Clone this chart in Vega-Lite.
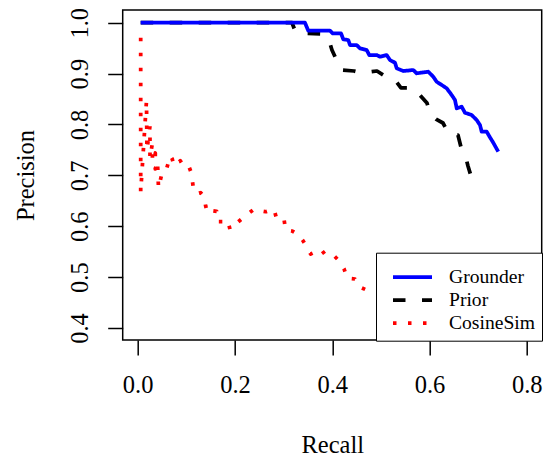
{
  "$schema": "https://vega.github.io/schema/vega-lite/v6.json",
  "width": 419,
  "height": 330,
  "autosize": {"type": "none"},
  "padding": {"left": 122.7, "top": 10, "right": 3.3, "bottom": 114},
  "background": "white",
  "config": {
    "view": {"stroke": "black", "strokeWidth": 1.5},
    "font": "Liberation Serif",
    "axis": {"labelFont": "Liberation Serif", "titleFont": "Liberation Serif"},
    "legend": {"labelFont": "Liberation Serif", "titleFont": "Liberation Serif"}
  },
  "data": {"values": [
    {"m":"Grounder","i":0,"r":0.0062,"p":1.0},
    {"m":"Grounder","i":1,"r":0.3440,"p":1.0},
    {"m":"Grounder","i":2,"r":0.3508,"p":0.9843},
    {"m":"Grounder","i":3,"r":0.3954,"p":0.9843},
    {"m":"Grounder","i":4,"r":0.4010,"p":0.9792},
    {"m":"Grounder","i":5,"r":0.4181,"p":0.9792},
    {"m":"Grounder","i":6,"r":0.4228,"p":0.9674},
    {"m":"Grounder","i":7,"r":0.4331,"p":0.9660},
    {"m":"Grounder","i":8,"r":0.4366,"p":0.9562},
    {"m":"Grounder","i":9,"r":0.4503,"p":0.9562},
    {"m":"Grounder","i":10,"r":0.4571,"p":0.9497},
    {"m":"Grounder","i":11,"r":0.4709,"p":0.9463},
    {"m":"Grounder","i":12,"r":0.4762,"p":0.9365},
    {"m":"Grounder","i":13,"r":0.4915,"p":0.9365},
    {"m":"Grounder","i":14,"r":0.4983,"p":0.9332},
    {"m":"Grounder","i":15,"r":0.5120,"p":0.9365},
    {"m":"Grounder","i":16,"r":0.5188,"p":0.9267},
    {"m":"Grounder","i":17,"r":0.5291,"p":0.9214},
    {"m":"Grounder","i":18,"r":0.5326,"p":0.9104},
    {"m":"Grounder","i":19,"r":0.5462,"p":0.9051},
    {"m":"Grounder","i":20,"r":0.5667,"p":0.9070},
    {"m":"Grounder","i":21,"r":0.5737,"p":0.9006},
    {"m":"Grounder","i":22,"r":0.5976,"p":0.9037},
    {"m":"Grounder","i":23,"r":0.6078,"p":0.8939},
    {"m":"Grounder","i":24,"r":0.6148,"p":0.8840},
    {"m":"Grounder","i":25,"r":0.6284,"p":0.8756},
    {"m":"Grounder","i":26,"r":0.6354,"p":0.8711},
    {"m":"Grounder","i":27,"r":0.6457,"p":0.8579},
    {"m":"Grounder","i":28,"r":0.6525,"p":0.8481},
    {"m":"Grounder","i":29,"r":0.6560,"p":0.8318},
    {"m":"Grounder","i":30,"r":0.6662,"p":0.8349},
    {"m":"Grounder","i":31,"r":0.6730,"p":0.8231},
    {"m":"Grounder","i":32,"r":0.6868,"p":0.8186},
    {"m":"Grounder","i":33,"r":0.6971,"p":0.8088},
    {"m":"Grounder","i":34,"r":0.7039,"p":0.7989},
    {"m":"Grounder","i":35,"r":0.7074,"p":0.7858},
    {"m":"Grounder","i":36,"r":0.7177,"p":0.7858},
    {"m":"Grounder","i":37,"r":0.7244,"p":0.7748},
    {"m":"Grounder","i":38,"r":0.7312,"p":0.7642},
    {"m":"Grounder","i":39,"r":0.7415,"p":0.7465},
    {"m":"Prior","i":0,"r":0.0062,"p":1.0},
    {"m":"Prior","i":1,"r":0.3173,"p":1.0},
    {"m":"Prior","i":2,"r":0.3255,"p":0.9798},
    {"m":"Prior","i":3,"r":0.3790,"p":0.9778},
    {"m":"Prior","i":4,"r":0.3934,"p":0.9660},
    {"m":"Prior","i":5,"r":0.3995,"p":0.9463},
    {"m":"Prior","i":6,"r":0.4098,"p":0.9247},
    {"m":"Prior","i":7,"r":0.4181,"p":0.9070},
    {"m":"Prior","i":8,"r":0.4448,"p":0.9051},
    {"m":"Prior","i":9,"r":0.4612,"p":0.9011},
    {"m":"Prior","i":10,"r":0.4921,"p":0.9051},
    {"m":"Prior","i":11,"r":0.5085,"p":0.8952},
    {"m":"Prior","i":12,"r":0.5291,"p":0.8874},
    {"m":"Prior","i":13,"r":0.5414,"p":0.8717},
    {"m":"Prior","i":14,"r":0.5661,"p":0.8717},
    {"m":"Prior","i":15,"r":0.5784,"p":0.8599},
    {"m":"Prior","i":16,"r":0.5949,"p":0.8422},
    {"m":"Prior","i":17,"r":0.6011,"p":0.8225},
    {"m":"Prior","i":18,"r":0.6134,"p":0.8107},
    {"m":"Prior","i":19,"r":0.6278,"p":0.8029},
    {"m":"Prior","i":20,"r":0.6401,"p":0.7812},
    {"m":"Prior","i":21,"r":0.6586,"p":0.7793},
    {"m":"Prior","i":22,"r":0.6648,"p":0.7557},
    {"m":"Prior","i":23,"r":0.6730,"p":0.7419},
    {"m":"Prior","i":24,"r":0.6792,"p":0.7184},
    {"m":"Prior","i":25,"r":0.6854,"p":0.6987},
    {"m":"CosineSim","i":0,"r":0.0062,"p":0.9705},
    {"m":"CosineSim","i":1,"r":0.0062,"p":0.6673},
    {"m":"CosineSim","i":2,"r":0.0181,"p":0.8461},
    {"m":"CosineSim","i":3,"r":0.0191,"p":0.7498},
    {"m":"CosineSim","i":4,"r":0.0253,"p":0.7970},
    {"m":"CosineSim","i":5,"r":0.0253,"p":0.7341},
    {"m":"CosineSim","i":6,"r":0.0300,"p":0.7616},
    {"m":"CosineSim","i":7,"r":0.0304,"p":0.7282},
    {"m":"CosineSim","i":8,"r":0.0362,"p":0.7439},
    {"m":"CosineSim","i":9,"r":0.0362,"p":0.7125},
    {"m":"CosineSim","i":10,"r":0.0407,"p":0.7282},
    {"m":"CosineSim","i":11,"r":0.0428,"p":0.6751},
    {"m":"CosineSim","i":12,"r":0.0506,"p":0.7066},
    {"m":"CosineSim","i":13,"r":0.0588,"p":0.7105},
    {"m":"CosineSim","i":14,"r":0.0670,"p":0.7386},
    {"m":"CosineSim","i":15,"r":0.0711,"p":0.7321},
    {"m":"CosineSim","i":16,"r":0.0746,"p":0.7189},
    {"m":"CosineSim","i":17,"r":0.0814,"p":0.7217},
    {"m":"CosineSim","i":18,"r":0.0876,"p":0.7288},
    {"m":"CosineSim","i":19,"r":0.0917,"p":0.7223},
    {"m":"CosineSim","i":20,"r":0.0979,"p":0.7150},
    {"m":"CosineSim","i":21,"r":0.1055,"p":0.7170},
    {"m":"CosineSim","i":22,"r":0.1102,"p":0.7052},
    {"m":"CosineSim","i":23,"r":0.1152,"p":0.6698},
    {"m":"CosineSim","i":24,"r":0.1219,"p":0.6639},
    {"m":"CosineSim","i":25,"r":0.1296,"p":0.6659},
    {"m":"CosineSim","i":26,"r":0.1363,"p":0.6588},
    {"m":"CosineSim","i":27,"r":0.1398,"p":0.6397},
    {"m":"CosineSim","i":28,"r":0.1439,"p":0.6260},
    {"m":"CosineSim","i":29,"r":0.1534,"p":0.6305},
    {"m":"CosineSim","i":30,"r":0.1625,"p":0.6293},
    {"m":"CosineSim","i":31,"r":0.1645,"p":0.6089},
    {"m":"CosineSim","i":32,"r":0.1744,"p":0.6089},
    {"m":"CosineSim","i":33,"r":0.1851,"p":0.6122},
    {"m":"CosineSim","i":34,"r":0.1898,"p":0.5939},
    {"m":"CosineSim","i":35,"r":0.2056,"p":0.6077},
    {"m":"CosineSim","i":36,"r":0.2227,"p":0.6215},
    {"m":"CosineSim","i":37,"r":0.2398,"p":0.6338},
    {"m":"CosineSim","i":38,"r":0.2515,"p":0.6305},
    {"m":"CosineSim","i":39,"r":0.2638,"p":0.6285},
    {"m":"CosineSim","i":40,"r":0.2803,"p":0.6338},
    {"m":"CosineSim","i":41,"r":0.2858,"p":0.6142},
    {"m":"CosineSim","i":42,"r":0.3008,"p":0.6142},
    {"m":"CosineSim","i":43,"r":0.3043,"p":0.5926},
    {"m":"CosineSim","i":44,"r":0.3179,"p":0.5906},
    {"m":"CosineSim","i":45,"r":0.3302,"p":0.5837},
    {"m":"CosineSim","i":46,"r":0.3393,"p":0.5725},
    {"m":"CosineSim","i":47,"r":0.3475,"p":0.5597},
    {"m":"CosineSim","i":48,"r":0.3557,"p":0.5454},
    {"m":"CosineSim","i":49,"r":0.3769,"p":0.5546},
    {"m":"CosineSim","i":50,"r":0.3872,"p":0.5421},
    {"m":"CosineSim","i":51,"r":0.4037,"p":0.5421},
    {"m":"CosineSim","i":52,"r":0.4146,"p":0.5316},
    {"m":"CosineSim","i":53,"r":0.4242,"p":0.5165},
    {"m":"CosineSim","i":54,"r":0.4310,"p":0.4976},
    {"m":"CosineSim","i":55,"r":0.4468,"p":0.4963},
    {"m":"CosineSim","i":56,"r":0.4557,"p":0.4811},
    {"m":"CosineSim","i":57,"r":0.4709,"p":0.4746}
  ]},
  "encoding": {
    "x": {"field": "r", "type": "quantitative",
      "scale": {"domain": [-0.0308, 0.8308], "nice": false, "zero": false},
      "axis": {"title": "Recall", "values": [0, 0.2, 0.4, 0.6, 0.8], "format": ".1f",
        "domain": false, "grid": false, "tickSize": 15, "tickWidth": 1.5, "tickColor": "black",
        "labelPadding": 18.8, "labelFlush": false, "labelOverlap": false, "labelBound": false,
        "labelFont": "Liberation Serif", "labelFontSize": 24.5, "labelColor": "black",
        "titleFont": "Liberation Serif", "titleFontSize": 24.5, "titleFontWeight": "normal", "titleColor": "black",
        "titleY": 112.3, "titleBaseline": "alphabetic"}},
    "y": {"field": "p", "type": "quantitative",
      "scale": {"domain": [0.3764, 1.025], "nice": false, "zero": false},
      "axis": {"title": "Precision", "values": [0.4, 0.5, 0.6, 0.7, 0.8, 0.9, 1.0], "format": ".1f",
        "domain": false, "grid": false, "tickSize": 15, "tickWidth": 1.5, "tickColor": "black",
        "labelPadding": 20.2, "labelAngle": -90, "labelAlign": "center", "labelBaseline": "alphabetic",
        "labelFlush": false, "labelOverlap": false, "labelBound": false,
        "labelFont": "Liberation Serif", "labelFontSize": 24.5, "labelColor": "black",
        "titleFont": "Liberation Serif", "titleFontSize": 24.5, "titleFontWeight": "normal", "titleColor": "black",
        "titleX": -89.4, "titleAngle": -90, "titleBaseline": "alphabetic"}},
    "order": {"field": "i", "type": "quantitative"},
    "color": {"field": "m", "type": "nominal",
      "scale": {"domain": ["Grounder", "Prior", "CosineSim"], "range": ["#0000ff", "#000000", "#ff0000"]},
      "legend": {"title": " ", "titleFont": "Liberation Serif", "titleFontSize": 7, "titlePadding": 0, "orient": "none", "legendX": 253.3, "legendY": 242.7,
        "padding": 6, "symbolOffset": 9, "labelOffset": 15, "clipHeight": 23, "rowPadding": 0,
        "symbolType": "stroke", "symbolSize": 1521, "symbolStrokeWidth": 3.75,
        "labelFont": "Liberation Serif", "labelFontSize": 19.6, "labelColor": "black", "labelLimit": 0,
        "strokeColor": "black", "fillColor": "white", "cornerRadius": 0}},
    "strokeDash": {"field": "m", "type": "nominal",
      "scale": {"domain": ["Grounder", "Prior", "CosineSim"], "range": [[1, 0], [12.5, 16.5], [3.5, 11.5]]},
      "legend": {"title": " ", "titleFont": "Liberation Serif", "titleFontSize": 7, "titlePadding": 0, "orient": "none", "legendX": 253.3, "legendY": 242.7,
        "padding": 6, "symbolOffset": 9, "labelOffset": 15, "clipHeight": 23, "rowPadding": 0,
        "symbolType": "stroke", "symbolSize": 1521, "symbolStrokeWidth": 3.75,
        "labelFont": "Liberation Serif", "labelFontSize": 19.6, "labelColor": "black", "labelLimit": 0,
        "strokeColor": "black", "fillColor": "white", "cornerRadius": 0}}
  },
  "layer": [
    {"transform": [{"filter": "datum.m === 'CosineSim'"}],
     "mark": {"type": "line", "strokeWidth": 3.75, "strokeJoin": "round", "strokeCap": "butt", "clip": true}},
    {"transform": [{"filter": "datum.m === 'Prior'"}],
     "mark": {"type": "line", "strokeWidth": 3.75, "strokeJoin": "round", "strokeCap": "butt", "clip": true}},
    {"transform": [{"filter": "datum.m === 'Grounder'"}],
     "mark": {"type": "line", "strokeWidth": 3.75, "strokeJoin": "round", "strokeCap": "butt", "clip": true}}
  ]
}
